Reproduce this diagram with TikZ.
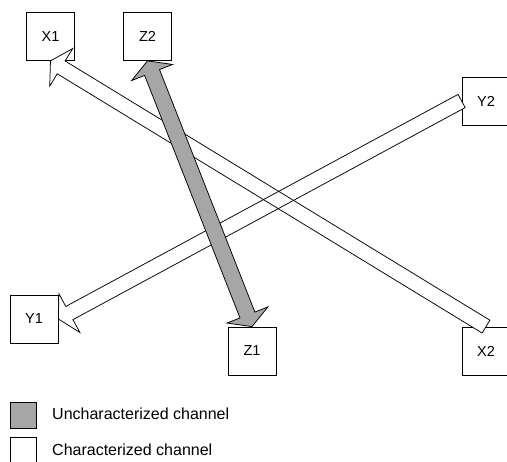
\documentclass[tikz,border=0pt]{standalone}
\usepackage{fontspec}
\setmainfont{Liberation Sans}
\usetikzlibrary{calc}
\definecolor{channelgray}{RGB}{166,166,166}
\begin{document}
\begin{tikzpicture}
[x=1pt, y=-1pt,
  boxdecorate/.style={shape=rectangle,draw,line width=0.75pt,inner sep=0pt,
    minimum width=48pt,minimum height=48pt,font=\fontsize{14.5}{16}\selectfont},
  legenddecorate/.style={shape=rectangle,draw,line width=0.75pt,inner sep=0pt,
    minimum width=26pt,minimum height=26pt},
  textdecorate/.style={inner sep=0pt,anchor=base west,font=\fontsize{16}{18}\selectfont},
  arrowdecorate/.style={draw,line width=0.75pt,line join=miter}]
\useasboundingbox (0,0) rectangle (507,462);
%% nodes or boxes
\foreach \nodename/\x/\y in {X1/50.5/36.5, Z2/147.5/36.5, Y2/486/101,
  Y1/34/319, Z1/252/351, X2/486/351}
{
  \node (\nodename) at (\x,\y) [boxdecorate] {\nodename};
}
%% characterized channels: white block arrows
\foreach \tail/\tip in {X2.north/X1.south, Y2.west/Y1.east}
{
  \coordinate (base) at ($(\tip)!12.5pt!(\tail)$);
  \fill[white] ($(\tail)!7.5pt!90:(\tip)$) -- ($(base)!7.5pt!90:(\tip)$)
    -- ($(base)!22pt!90:(\tip)$) -- (\tip) -- ($(base)!22pt!-90:(\tip)$)
    -- ($(base)!7.5pt!-90:(\tip)$) -- ($(\tail)!7.5pt!-90:(\tip)$) -- cycle;
}
\foreach \tail/\tip in {X2.north/X1.south, Y2.west/Y1.east}
{
  \coordinate (base) at ($(\tip)!12.5pt!(\tail)$);
  \path[arrowdecorate] ($(\tail)!7.5pt!90:(\tip)$) -- ($(base)!7.5pt!90:(\tip)$)
    -- ($(base)!22pt!90:(\tip)$) -- (\tip) -- ($(base)!22pt!-90:(\tip)$)
    -- ($(base)!7.5pt!-90:(\tip)$) -- ($(\tail)!7.5pt!-90:(\tip)$) -- cycle;
}
%% uncharacterized channel: grey double block arrow
\coordinate (upperbase) at ($(Z2.south)!12.5pt!(Z1.north)$);
\coordinate (lowerbase) at ($(Z1.north)!12.5pt!(Z2.south)$);
\path[arrowdecorate,fill=channelgray] (Z2.south)
  -- ($(upperbase)!22pt!90:(Z1.north)$) -- ($(upperbase)!8pt!90:(Z1.north)$)
  -- ($(lowerbase)!8pt!-90:(Z2.south)$) -- ($(lowerbase)!22pt!-90:(Z2.south)$)
  -- (Z1.north)
  -- ($(lowerbase)!22pt!90:(Z2.south)$) -- ($(lowerbase)!8pt!90:(Z2.south)$)
  -- ($(upperbase)!8pt!-90:(Z1.north)$) -- ($(upperbase)!22pt!-90:(Z1.north)$)
  -- cycle;
%% legend
\node (graykey) at (23,415.5) [legenddecorate,fill=channelgray] {};
\node (whitekey) at (23,450.5) [legenddecorate] {};
\node (graytext) at (52,419.3) [textdecorate] {Uncharacterized channel};
\node (whitetext) at (52,456) [textdecorate] {Characterized channel};
\end{tikzpicture}
\end{document}
